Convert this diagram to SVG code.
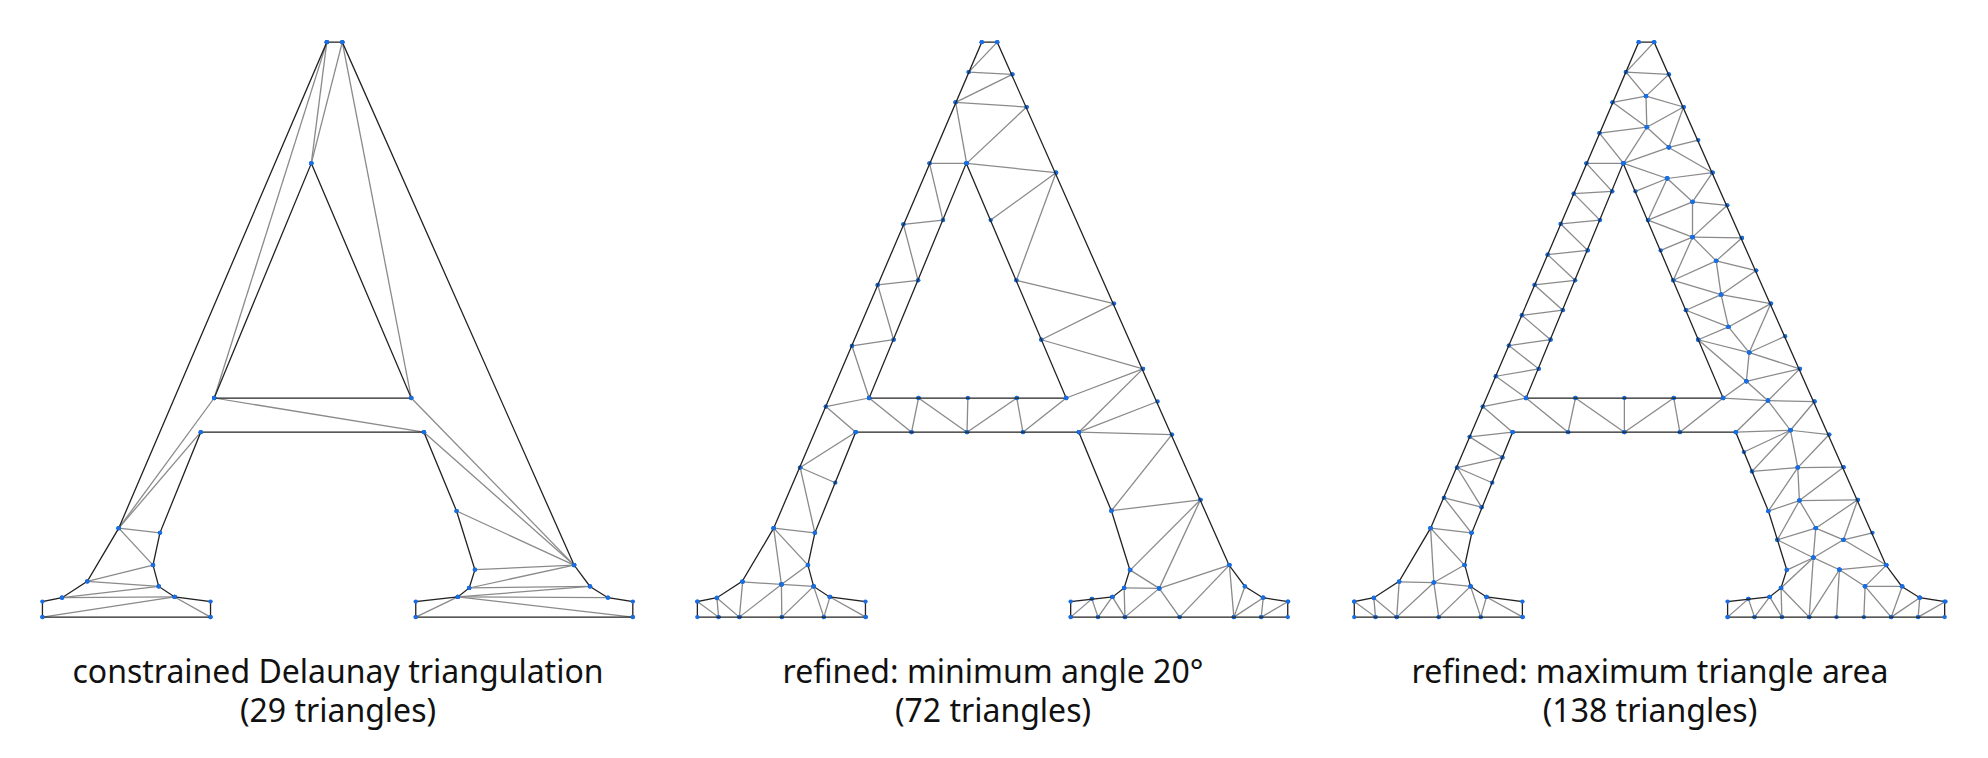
<svg xmlns="http://www.w3.org/2000/svg" width="1988" height="758" viewBox="0 0 1988 758">
<style>
.e{stroke:#8a8a8a;stroke-width:3.2;fill:none;marker-start:url(#d);marker-end:url(#d)}
.o{stroke:#222;stroke-width:3.2;fill:none;marker-start:url(#d);marker-mid:url(#d);marker-end:url(#d)}
text{font-family:"Noto Sans","Open Sans",sans-serif;font-size:32px;fill:#111;text-anchor:middle}
</style>
<defs>
<marker id="d" markerUnits="userSpaceOnUse" markerWidth="14" markerHeight="14" refX="7" refY="7" overflow="visible"><circle cx="7" cy="7" r="5.5" fill="#1a6ee0"/></marker>
<path id="out" class="o" d="M752,57 L790,57 L1358,1403 L1397,1458 L1441,1487 L1502,1497 L1502,1537 L970,1537 L970,1497 L1073,1485 L1101,1462 L1115,1415 L1070,1264 L990,1061 L443,1061 L343,1320 L326,1403 L340,1458 L379,1485 L467,1497 L467,1537 L55,1537 L55,1497 L103,1487 L165,1445 L242,1308 Z M714,369 L959,973 L476,973 Z"/>
</defs>
<g id="mesh1" transform="translate(20,20) scale(0.408,0.3885)">
<path class="e" d="M752,57L714,369"/><path class="e" d="M790,57L714,369"/><path class="e" d="M752,57L476,973"/><path class="e" d="M790,57L959,973"/><path class="e" d="M476,973L990,1061"/><path class="e" d="M959,973L1358,1403"/><path class="e" d="M990,1061L1358,1403"/><path class="e" d="M1070,1264L1358,1403"/><path class="e" d="M1115,1415L1358,1403"/><path class="e" d="M1101,1462L1358,1403"/><path class="e" d="M1101,1462L1397,1458"/><path class="e" d="M1073,1485L1397,1458"/><path class="e" d="M1073,1485L1441,1487"/><path class="e" d="M1073,1485L1502,1537"/><path class="e" d="M970,1537L1073,1485"/><path class="e" d="M242,1308L476,973"/><path class="e" d="M242,1308L443,1061"/><path class="e" d="M242,1308L343,1320"/><path class="e" d="M242,1308L326,1403"/><path class="e" d="M165,1445L326,1403"/><path class="e" d="M165,1445L340,1458"/><path class="e" d="M103,1487L340,1458"/><path class="e" d="M103,1487L379,1485"/><path class="e" d="M55,1537L379,1485"/><path class="e" d="M379,1485L467,1537"/>
<use href="#out"/>
</g>
<g id="mesh2" transform="translate(679,20) scale(0.408,0.3885)">
<path class="e" d="M780,57L710,134"/><path class="e" d="M710,134L817,140"/><path class="e" d="M817,140L678,212"/><path class="e" d="M678,212L852,224"/><path class="e" d="M852,224L705,369"/><path class="e" d="M678,212L705,369"/><path class="e" d="M614,369L705,369"/><path class="e" d="M614,369L647,515"/><path class="e" d="M705,369L924,393"/><path class="e" d="M924,393L764,515"/><path class="e" d="M924,393L827,670"/><path class="e" d="M827,670L1066,730"/><path class="e" d="M1066,730L888,823"/><path class="e" d="M888,823L1137,898"/><path class="e" d="M1137,898L949,973"/><path class="e" d="M1137,898L980,1061"/><path class="e" d="M980,1061L1173,982"/><path class="e" d="M980,1061L1208,1067"/><path class="e" d="M1208,1067L1060,1263"/><path class="e" d="M1060,1263L1278,1235"/><path class="e" d="M1278,1235L1106,1416"/><path class="e" d="M1278,1235L1177,1463"/><path class="e" d="M1106,1416L1177,1463"/><path class="e" d="M1091,1462L1177,1463"/><path class="e" d="M1091,1462L1093,1537"/><path class="e" d="M1177,1463L1093,1537"/><path class="e" d="M1177,1463L1227,1537"/><path class="e" d="M1177,1463L1349,1403"/><path class="e" d="M1349,1403L1227,1537"/><path class="e" d="M1349,1403L1360,1537"/><path class="e" d="M1387,1458L1360,1537"/><path class="e" d="M1432,1487L1360,1537"/><path class="e" d="M1432,1487L1427,1537"/><path class="e" d="M1427,1537L1493,1497"/><path class="e" d="M1062,1485L1093,1537"/><path class="e" d="M1062,1485L1027,1537"/><path class="e" d="M1012,1490L1027,1537"/><path class="e" d="M1012,1490L960,1537"/>
<path class="e" d="M550,526L647,515"/><path class="e" d="M550,526L586,670"/><path class="e" d="M487,682L586,670"/><path class="e" d="M487,682L526,823"/><path class="e" d="M424,839L526,823"/><path class="e" d="M424,839L466,973"/><path class="e" d="M360,995L466,973"/><path class="e" d="M360,995L433,1061"/><path class="e" d="M466,973L570,1061"/><path class="e" d="M587,973L570,1061"/><path class="e" d="M587,973L706,1061"/><path class="e" d="M708,973L706,1061"/><path class="e" d="M828,973L706,1061"/><path class="e" d="M828,973L843,1061"/><path class="e" d="M949,973L843,1061"/><path class="e" d="M433,1061L297,1152"/><path class="e" d="M297,1152L383,1191"/><path class="e" d="M297,1152L333,1320"/><path class="e" d="M232,1308L333,1320"/><path class="e" d="M232,1308L316,1403"/><path class="e" d="M232,1308L251,1453"/><path class="e" d="M316,1403L251,1453"/><path class="e" d="M156,1446L251,1453"/><path class="e" d="M251,1453L330,1458"/><path class="e" d="M251,1453L148,1537"/><path class="e" d="M251,1453L252,1537"/><path class="e" d="M330,1458L252,1537"/><path class="e" d="M330,1458L355,1537"/><path class="e" d="M370,1485L355,1537"/><path class="e" d="M370,1485L458,1537"/><path class="e" d="M156,1446L148,1537"/><path class="e" d="M93,1488L148,1537"/><path class="e" d="M93,1488L97,1537"/><path class="e" d="M45,1497L97,1537"/>
<use href="#out" transform="translate(-10,0)"/>
</g>
<g id="mesh3" transform="translate(1340,20) scale(0.408,0.3885)">
<path class="e" d="M770,57L701,134"/><path class="e" d="M701,134L806,140"/><path class="e" d="M701,134L750,196"/><path class="e" d="M806,140L750,196"/><path class="e" d="M750,196L668,212"/><path class="e" d="M750,196L842,224"/><path class="e" d="M750,196L752,276"/><path class="e" d="M668,212L752,276"/><path class="e" d="M842,224L752,276"/><path class="e" d="M752,276L636,291"/><path class="e" d="M752,276L695,369"/><path class="e" d="M636,291L695,369"/><path class="e" d="M752,276L806,328"/><path class="e" d="M842,224L806,328"/><path class="e" d="M806,328L878,309"/><path class="e" d="M806,328L695,369"/><path class="e" d="M806,328L913,393"/><path class="e" d="M604,369L695,369"/><path class="e" d="M695,369L802,408"/><path class="e" d="M802,408L913,393"/><path class="e" d="M802,408L724,441"/><path class="e" d="M802,408L755,515"/><path class="e" d="M802,408L864,468"/><path class="e" d="M913,393L864,468"/><path class="e" d="M864,468L949,477"/><path class="e" d="M864,468L755,515"/><path class="e" d="M864,468L864,559"/><path class="e" d="M949,477L864,559"/><path class="e" d="M755,515L864,559"/><path class="e" d="M864,559L786,593"/><path class="e" d="M864,559L985,561"/><path class="e" d="M864,559L922,620"/><path class="e" d="M985,561L922,620"/><path class="e" d="M864,559L817,670"/><path class="e" d="M922,620L817,670"/><path class="e" d="M922,620L1020,645"/><path class="e" d="M922,620L934,707"/><path class="e" d="M817,670L934,707"/><path class="e" d="M934,707L1056,730"/><path class="e" d="M1020,645L934,707"/><path class="e" d="M934,707L848,747"/><path class="e" d="M934,707L952,790"/><path class="e" d="M848,747L952,790"/><path class="e" d="M1056,730L952,790"/><path class="e" d="M952,790L878,823"/><path class="e" d="M1056,730L1003,856"/><path class="e" d="M952,790L1003,856"/><path class="e" d="M878,823L1003,856"/><path class="e" d="M1003,856L1091,814"/><path class="e" d="M1003,856L1127,898"/><path class="e" d="M878,823L996,930"/><path class="e" d="M1003,856L996,930"/><path class="e" d="M1127,898L996,930"/><path class="e" d="M996,930L939,973"/><path class="e" d="M996,930L1049,980"/><path class="e" d="M1127,898L1049,980"/><path class="e" d="M939,973L1049,980"/><path class="e" d="M1049,980L1163,982"/><path class="e" d="M1049,980L970,1061"/><path class="e" d="M1049,980L1104,1056"/><path class="e" d="M1163,982L1104,1056"/><path class="e" d="M970,1061L1104,1056"/><path class="e" d="M1104,1056L1199,1067"/><path class="e" d="M1104,1056L990,1112"/><path class="e" d="M1104,1056L1010,1162"/><path class="e" d="M1104,1056L1122,1152"/><path class="e" d="M1199,1067L1122,1152"/><path class="e" d="M1010,1162L1122,1152"/><path class="e" d="M1122,1152L1234,1151"/><path class="e" d="M1122,1152L1050,1264"/><path class="e" d="M1122,1152L1126,1237"/><path class="e" d="M1234,1151L1126,1237"/><path class="e" d="M1050,1264L1126,1237"/><path class="e" d="M1126,1237L1269,1235"/><path class="e" d="M1126,1237L1166,1308"/><path class="e" d="M1269,1235L1166,1308"/><path class="e" d="M1269,1235L1234,1338"/><path class="e" d="M1126,1237L1072,1338"/><path class="e" d="M1166,1308L1072,1338"/><path class="e" d="M1166,1308L1234,1338"/><path class="e" d="M1234,1338L1305,1320"/><path class="e" d="M1166,1308L1160,1384"/><path class="e" d="M1072,1338L1160,1384"/><path class="e" d="M1234,1338L1160,1384"/><path class="e" d="M1234,1338L1339,1403"/><path class="e" d="M1160,1384L1095,1416"/><path class="e" d="M1160,1384L1224,1415"/><path class="e" d="M1224,1415L1339,1403"/><path class="e" d="M1160,1384L1081,1462"/><path class="e" d="M1160,1384L1150,1537"/><path class="e" d="M1224,1415L1150,1537"/><path class="e" d="M1224,1415L1217,1537"/><path class="e" d="M1224,1415L1287,1458"/><path class="e" d="M1339,1403L1287,1458"/><path class="e" d="M1287,1458L1378,1458"/><path class="e" d="M1287,1458L1284,1537"/><path class="e" d="M1287,1458L1351,1537"/><path class="e" d="M1378,1458L1351,1537"/><path class="e" d="M1421,1487L1351,1537"/><path class="e" d="M1421,1487L1417,1537"/><path class="e" d="M1417,1537L1484,1497"/><path class="e" d="M1081,1462L1083,1537"/><path class="e" d="M1081,1462L1150,1537"/><path class="e" d="M1053,1485L1083,1537"/><path class="e" d="M1053,1485L1016,1537"/><path class="e" d="M1001,1490L1016,1537"/><path class="e" d="M1001,1490L950,1537"/>
<path class="e" d="M604,369L667,441"/><path class="e" d="M573,447L667,441"/><path class="e" d="M573,447L637,515"/><path class="e" d="M541,525L637,515"/><path class="e" d="M541,525L607,593"/><path class="e" d="M509,604L607,593"/><path class="e" d="M509,604L576,670"/><path class="e" d="M477,682L576,670"/><path class="e" d="M477,682L546,747"/><path class="e" d="M446,760L546,747"/><path class="e" d="M446,760L516,823"/><path class="e" d="M414,838L516,823"/><path class="e" d="M414,838L487,898"/><path class="e" d="M382,917L487,898"/><path class="e" d="M382,917L456,973"/><path class="e" d="M350,995L456,973"/><path class="e" d="M350,995L423,1061"/><path class="e" d="M318,1073L423,1061"/><path class="e" d="M318,1073L398,1126"/><path class="e" d="M287,1152L398,1126"/><path class="e" d="M287,1152L373,1191"/><path class="e" d="M287,1152L347,1254"/><path class="e" d="M255,1230L347,1254"/><path class="e" d="M255,1230L322,1320"/><path class="e" d="M222,1308L322,1320"/><path class="e" d="M222,1308L305,1403"/><path class="e" d="M222,1308L230,1448"/><path class="e" d="M305,1403L230,1448"/><path class="e" d="M145,1446L230,1448"/><path class="e" d="M230,1448L320,1458"/><path class="e" d="M230,1448L139,1537"/><path class="e" d="M230,1448L242,1537"/><path class="e" d="M320,1458L242,1537"/><path class="e" d="M320,1458L345,1537"/><path class="e" d="M359,1485L345,1537"/><path class="e" d="M359,1485L448,1537"/><path class="e" d="M145,1446L139,1537"/><path class="e" d="M83,1488L139,1537"/><path class="e" d="M83,1488L87,1537"/><path class="e" d="M35,1497L87,1537"/>
<path class="e" d="M456,973L559,1061"/><path class="e" d="M577,973L559,1061"/><path class="e" d="M577,973L697,1061"/><path class="e" d="M697,973L697,1061"/><path class="e" d="M818,973L697,1061"/><path class="e" d="M818,973L833,1061"/><path class="e" d="M939,973L833,1061"/>
<use href="#out" transform="translate(-20,0)"/>
</g>
<g id="labels">
<text x="338" y="683">constrained Delaunay triangulation</text>
<text x="338" y="722">(29 triangles)</text>
<text x="993" y="683">refined: minimum angle 20°</text>
<text x="993" y="722">(72 triangles)</text>
<text x="1650" y="683">refined: maximum triangle area</text>
<text x="1650" y="722">(138 triangles)</text>
</g>
</svg>
